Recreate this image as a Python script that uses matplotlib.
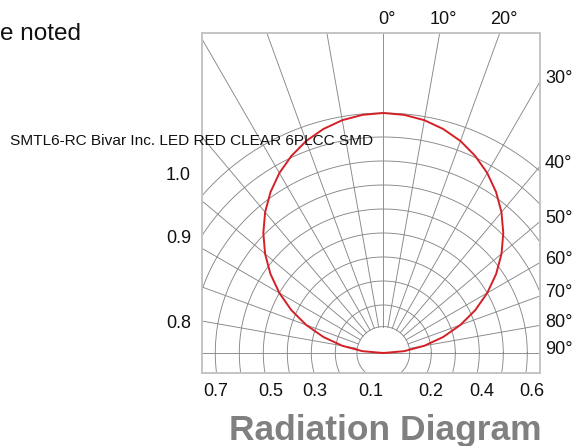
import numpy as np
import matplotlib
matplotlib.use("Agg")
import matplotlib.pyplot as plt

# ---------------- data ----------------
angles_deg = [-90, -85, -80, -75, -70, -65, -60, -55, -50, -45, -40, -35, -30, -25,
              -20, -15, -10, -5, 0, 5, 10, 15, 20, 25, 30, 35, 40, 45, 50, 55, 60,
              65, 70, 75, 80, 85, 90]
intensity = [0.000, 0.087, 0.174, 0.259, 0.342, 0.423, 0.500, 0.574, 0.643, 0.707,
             0.766, 0.819, 0.866, 0.906, 0.940, 0.966, 0.985, 0.996, 1.000, 0.996,
             0.985, 0.966, 0.940, 0.906, 0.866, 0.819, 0.766, 0.707, 0.643, 0.574,
             0.500, 0.423, 0.342, 0.259, 0.174, 0.087, 0.000]
ring_levels = [0.11, 0.2, 0.3, 0.4, 0.5, 0.6, 0.7, 0.8, 0.9, 1.0]
spoke_angles = [-80, -70, -60, -50, -40, -30, -20, -10, 0, 10, 20, 30, 40, 50, 60, 70, 80]
top_angle_labels = [0, 10, 20]
right_angle_labels = [30, 40, 50, 60, 70, 80, 90]
left_labels = ["1.0", "0.9", "0.8"]
bottom_labels = ["0.7", "0.5", "0.3", "0.1", "0.2", "0.4", "0.6"]
title = "Radiation Diagram"
mirrored_note = "SMTL6-RC Bivar Inc. LED RED CLEAR 6PLCC SMD"
corner_note = "e noted"

# ---------------- layout ----------------
W, H = 574, 446
plt.rcParams['font.family'] = ['Liberation Sans', 'DejaVu Sans']
fig = plt.figure(figsize=(W / 100, H / 100), dpi=100)

box_l, box_r, box_t, box_b = 202, 540, 33, 373   # pixel box of the diagram
cx, cy = 383.3, 353.0                              # pixel centre of diagram
scale = 240.0                                      # pixels per unit intensity

ax = fig.add_axes([box_l / W, 1 - box_b / H, (box_r - box_l) / W, (box_b - box_t) / H])
ax.set_xlim((box_l - cx) / scale, (box_r - cx) / scale)
ax.set_ylim((cy - box_b) / scale, (cy - box_t) / scale)
ax.set_xticks([])
ax.set_yticks([])
for s in ax.spines.values():
    s.set_color('#c4c4c4')
    s.set_linewidth(1.4)

grid_c = '#878787'
grid_lw = 0.65

# rings
t = np.linspace(0, 2 * np.pi, 721)
for r in ring_levels:
    ax.plot(r * np.cos(t), r * np.sin(t), color=grid_c, lw=grid_lw, zorder=1)

# spokes
r_in = ring_levels[0]
for a in spoke_angles:
    th = np.deg2rad(a)
    ax.plot([r_in * np.sin(th), 3 * np.sin(th)], [r_in * np.cos(th), 3 * np.cos(th)],
            color=grid_c, lw=grid_lw, zorder=1)
ax.axhline(0, color=grid_c, lw=grid_lw, zorder=1)

# radiation pattern
th = np.deg2rad(np.array(angles_deg))
I = np.array(intensity)
ax.plot(I * np.sin(th), I * np.cos(th), color='#d42027', lw=1.4, zorder=3,
        solid_joinstyle='round')

# ---------------- labels ----------------
def fx(x):
    return x / W

def fy(y):
    return 1 - y / H

lab_fs = 13
xr = (box_r - cx) / scale
ytop = (cy - box_t) / scale
for a in top_angle_labels:
    xpix = cx + np.tan(np.deg2rad(a)) * ytop * scale
    fig.text(fx(xpix + 4), fy(20), f"{a}°", ha='center', va='center',
             fontsize=lab_fs, color='#111111')
for a in right_angle_labels:
    ypix = cy - xr * scale / np.tan(np.deg2rad(a)) if a < 90 else cy
    fig.text(fx(545), fy(ypix - 3), f"{a}°", ha='left', va='center',
             fontsize=lab_fs, color='#111111')

left_y = [176, 238.5, 323.5]
for lab, y in zip(left_labels, left_y):
    fig.text(fx(191), fy(y), lab, ha='right', va='center', fontsize=lab_fs, color='#111111')

bottom_x = [215.5, 270.5, 315, 370.5, 431, 481.5, 531.5]
for lab, x in zip(bottom_labels, bottom_x):
    fig.text(fx(x), fy(392), lab, ha='center', va='center', fontsize=lab_fs, color='#111111')

fig.text(fx(229), fy(440), title, ha='left', va='baseline', fontsize=25.5,
         fontweight='bold', color='#808080')
fig.text(fx(10), fy(141), mirrored_note, ha='left', va='center', fontsize=11.05,
         color='#111111')
fig.text(fx(0), fy(40), corner_note, ha='left', va='baseline', fontsize=17.5, color='#111111')

fig.savefig("out.png", dpi=100)
